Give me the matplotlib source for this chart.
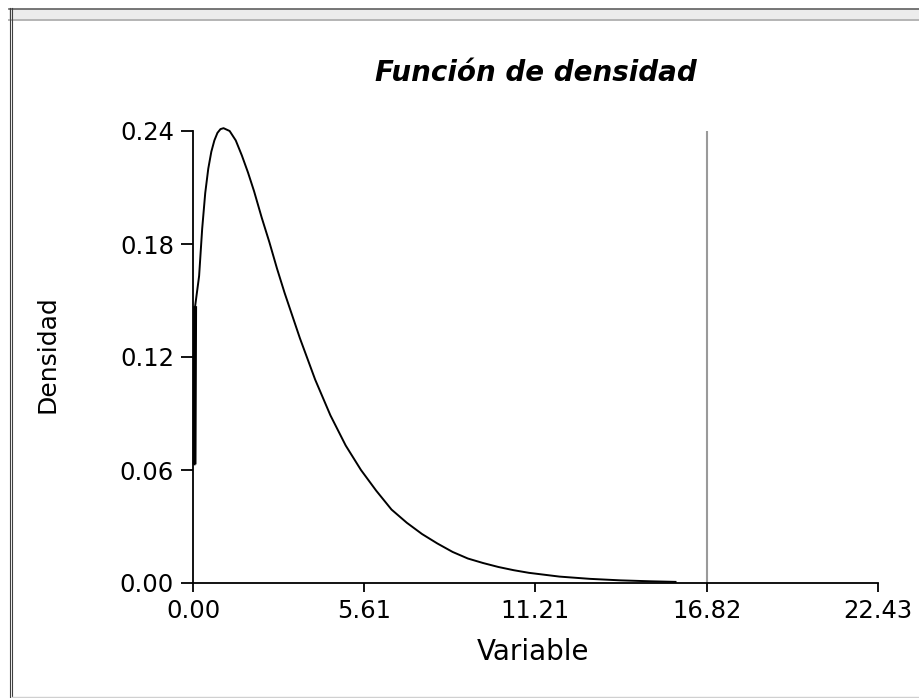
import matplotlib
matplotlib.use("Agg")
import matplotlib.pyplot as plt
from matplotlib.lines import Line2D
from matplotlib.patches import Rectangle

plt.rcParams['font.family'] = ['DejaVu Sans']

# Data
variable = [0.05, 0.07, 0.20, 0.30, 0.40, 0.50, 0.60, 0.70, 0.80, 0.90,
            1.00, 1.20, 1.40, 1.60, 1.80, 2.00, 2.25, 2.50, 2.75, 3.00, 3.25, 3.50,
            3.75, 4.00, 4.50, 5.00, 5.50, 6.00, 6.50, 7.00, 7.50, 8.00, 8.50, 9.00,
            9.50, 10.0, 10.5, 11.0, 12.0, 13.0, 14.0, 15.0, 15.8]
densidad = [0.063, 0.147, 0.163, 0.188, 0.207, 0.220, 0.229, 0.235, 0.239, 0.241,
            0.2415, 0.240, 0.235, 0.227, 0.218, 0.208, 0.194, 0.181, 0.167, 0.154, 0.142, 0.130,
            0.119, 0.108, 0.089, 0.073, 0.060, 0.049, 0.039, 0.032, 0.026, 0.021, 0.0165, 0.013,
            0.0106, 0.0085, 0.0068, 0.0054, 0.0034, 0.0022, 0.0014, 0.0009, 0.0006]
xticks = [0.00, 5.61, 11.21, 16.82, 22.43]
xtick_labels = ["0.00", "5.61", "11.21", "16.82", "22.43"]
yticks = [0.00, 0.06, 0.12, 0.18, 0.24]
ytick_labels = ["0.00", "0.06", "0.12", "0.18", "0.24"]
ref_line = 16.82

W, H = 919, 698
fig = plt.figure(figsize=(W / 100, H / 100), dpi=100)

def px(x, y):
    return x / W, 1 - y / H

# window frame
fig.add_artist(Rectangle(px(9, 18.5), (W - 9) / W, 10 / H, transform=fig.transFigure,
                         facecolor='#ececec', edgecolor='none'))
fig.add_artist(Line2D([9 / W, 1], [1 - 8.5 / H] * 2, transform=fig.transFigure, color='#606060', lw=1.2))
fig.add_artist(Line2D([9 / W, 1], [1 - 19.5 / H] * 2, transform=fig.transFigure, color='#b4b4b4', lw=1.4))
for xx in (9.5, 12):
    fig.add_artist(Line2D([xx / W] * 2, [0, 1 - 8 / H], transform=fig.transFigure, color='#404040', lw=0.8))
fig.add_artist(Line2D([12 / W, 1], [1 - 697 / H] * 2, transform=fig.transFigure, color='#d0d0d0', lw=1.0))

ax = fig.add_axes([193 / W, 1 - 583 / H, 685 / W, 452 / H])
ax.plot(variable, densidad, color='black', lw=1.4, clip_on=False)
ax.plot(variable[:2], densidad[:2], color='black', lw=2.8, clip_on=False, solid_capstyle='butt')
ax.axvline(ref_line, color='#9a9a9a', lw=1.5)

ax.set_xlim(0, 22.43)
ax.set_ylim(0, 0.24)
ax.set_xticks(xticks)
ax.set_xticklabels(xtick_labels)
ax.set_yticks(yticks)
ax.set_yticklabels(ytick_labels)
for s in ('top', 'right'):
    ax.spines[s].set_visible(False)
for s in ('left', 'bottom'):
    ax.spines[s].set_linewidth(1.3)
    ax.spines[s].set_color('black')
ax.tick_params(axis='y', direction='out', length=8.6, width=1.3, pad=5, labelsize=17.5)
ax.tick_params(axis='x', direction='out', length=6.5, width=1.3, pad=5, labelsize=17.5)

fig.text(*px(536, 81), "Función de densidad", ha='center', va='baseline',
         fontsize=20, fontweight='bold', fontstyle='italic')
fig.text(*px(533, 660), "Variable", ha='center', va='baseline', fontsize=20)
fig.text(*px(47.5, 354), "Densidad", ha='center', va='center', rotation=90, fontsize=18)

fig.savefig("out.png", dpi=100, facecolor='white')
